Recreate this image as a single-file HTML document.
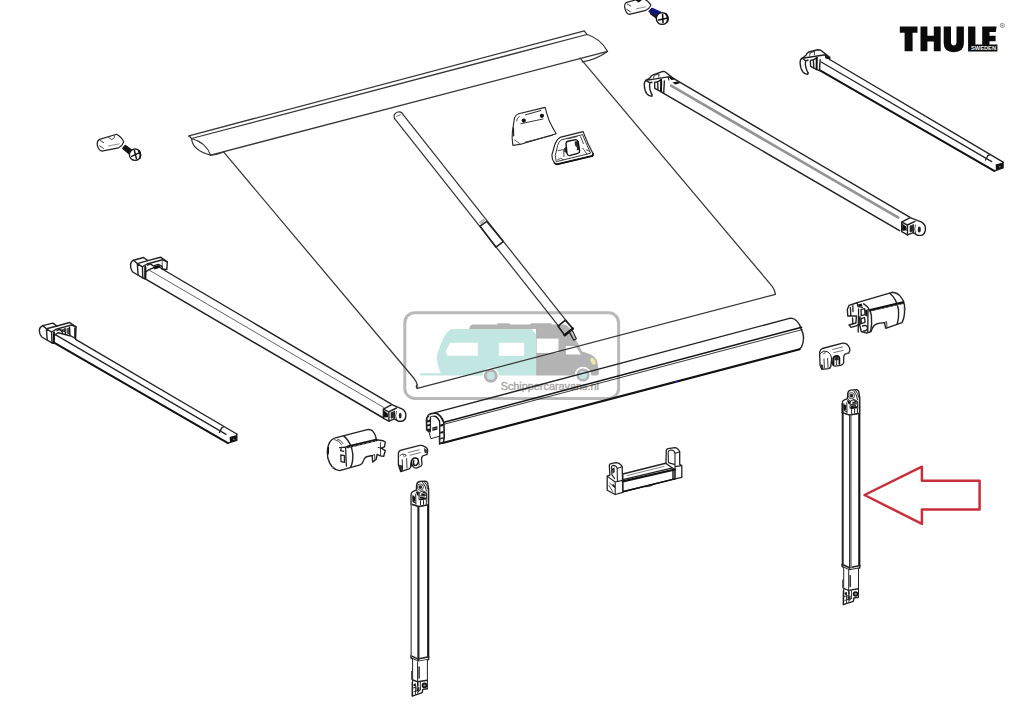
<!DOCTYPE html>
<html><head><meta charset="utf-8"><title>Thule awning parts</title>
<style>
html,body{margin:0;padding:0;background:#fff;}
body{width:1024px;height:711px;overflow:hidden;font-family:"Liberation Sans",sans-serif;}
svg{display:block;position:absolute;left:0;top:0;}
.k{fill:none;stroke:#222;stroke-width:1.4;stroke-linecap:round;stroke-linejoin:round;}
.kb{fill:none;stroke:#111;stroke-width:2.1;stroke-linecap:round;stroke-linejoin:round;}
.kt{fill:none;stroke:#363636;stroke-width:1.25;stroke-linecap:round;stroke-linejoin:round;}
.kg{fill:none;stroke:#8a8a8a;stroke-width:1.3;stroke-linecap:round;}
.w{fill:#fff;stroke:#222;stroke-width:1.4;stroke-linecap:round;stroke-linejoin:round;}
.wb{fill:#fff;stroke:#111;stroke-width:1.6;stroke-linecap:round;stroke-linejoin:round;}
.d{fill:#111;stroke:none;}
</style></head>
<body>
<svg width="1024" height="711" viewBox="0 0 1024 711">
<rect width="1024" height="711" fill="#fff"/>

<!-- ============ WATERMARK ============ -->
<g id="wm">
 <rect x="404.8" y="312.7" width="213.8" height="85.7" rx="10" ry="10" fill="none" stroke="#b9b9b9" stroke-width="3"/>
 <!-- motorhome (gray) -->
 <path d="M469.5 328 Q470 324.6 474 324.6 L497 324.6 L498 323.2 L509.4 323.2 L510.4 324.6 L530 324.6 L531 323.2 L551 323.2 L552 324.6 L563.5 324.6 Q567.6 325 569.4 327.8 L582.2 351.4 Q594 354.6 596.4 359.4 Q597.8 362 598 366 L598.9 373.2 Q598.9 375.6 596.5 375.6 L536 375.6 L536 329 L469.5 329 Z" fill="#b3b3b3"/>
 <rect x="536.6" y="338.6" width="21.9" height="14.3" fill="#fff"/>
 <path d="M565.9 346 L575.6 346 L580.9 354.4 L565.9 354.4 Z" fill="#fff"/>
 <ellipse cx="593" cy="361.3" rx="2.1" ry="3.7" transform="rotate(-28 593 361.3)" fill="#f2e9a2"/>
 <!-- caravan (teal) -->
 <path d="M453 329 L531.6 329 L536.2 334.4 L536.2 375.4 L440.6 375.4 L440.6 375.4 L419.8 375.4 L419.8 373.3 L440.8 373.3 Q436.6 364 437 355.6 Q442 338 447.4 332 Q450 329 453 329 Z" fill="#c2e7e3"/>
 <path d="M450.2 342.8 L477.8 342.8 L477.8 355.8 L447.8 355.8 L445.4 351.8 Z" fill="#fff"/>
 <rect x="498.8" y="342.8" width="25.4" height="13" fill="#fff"/>
 <!-- wheels -->
 <circle cx="490.8" cy="375.8" r="8.2" fill="#fff"/>
 <circle cx="490.8" cy="375.8" r="5.5" fill="#c2e7e3" stroke="#b3b3b3" stroke-width="2.9"/>
 <circle cx="583" cy="375" r="8.3" fill="#fff"/>
 <circle cx="583" cy="375" r="5.3" fill="#c2e7e3" stroke="#b3b3b3" stroke-width="2.6"/>
 <text x="500.7" y="390.3" font-family="Liberation Sans, sans-serif" font-size="10.8" fill="#a6a6a6" stroke="#a6a6a6" stroke-width=".35" textLength="98.2" lengthAdjust="spacingAndGlyphs">Schippercaravans.nl</text>
</g>

<!-- ============ FABRIC + ROLL ============ -->
<g id="fabric">
 <!-- roll -->
 <path class="kt" d="M189 135.8 L584.3 30.8 L586.9 34.5"/>
 <path class="kt" d="M191.6 138.5 L586.9 34.5"/>
 <path class="kt" d="M210.6 155.1 L607.5 51.4"/>
 <path class="kt" d="M586.9 34.5 Q600 38 607.5 51.4 Q596 59.5 582.2 61.9"/>
 <path class="kt" d="M189.3 136.2 L191.6 138.5 Q192 150 210.6 155.1 Q206 142.5 191.6 138.5"/>
 <path class="kt" d="M210.6 155.1 Q218 154.6 223.8 152"/>
 <circle cx="189.4" cy="136" r="1" fill="#333"/>
 <!-- sheet -->
 <path class="kt" d="M223.8 152.2 L413.7 378 Q416.6 381.6 417.2 384.6 Q415.4 386.6 417.2 388.4 L775.5 294.4 Q774.8 289.6 772.2 286.3 L580.1 58.2"/>
 <path class="kt" d="M417.2 384.6 Q418.6 386.4 417.2 388.4" style="stroke-width:.9"/>
</g>

<!-- ============ CENTER POLE (rafter) ============ -->
<g id="pole">
 <path class="kt" d="M394.6 118.6 Q392.6 113.6 397.8 112 Q401.8 111 403.3 114.9"/>
 <path class="kt" d="M394.6 118.6 L559 326.6"/>
 <path class="kt" d="M403.3 114.9 L566.9 321.6"/>
 <path class="kt" d="M396.5 116.4 L400.6 114.7" style="stroke-width:.7"/>
 <!-- collar -->
 <path class="k" d="M480.1 226.1 L486.8 221.5 L503.3 241.6 L495.9 247.2 Z" style="stroke-width:1.5;fill:none"/>
 <path class="kt" d="M480.6 223.6 L484.6 220.6 M479.6 222.4 L483.6 219.4 M481.4 224.8 L485.4 221.8" style="stroke-width:.6"/>
 <!-- ferrule + pin -->
 <path class="k" d="M558 326.1 L565.4 320.1 L572.8 328.6 L564.7 335.2 Z" style="stroke-width:1.7;fill:none"/>
 <path class="kb" d="M564.7 335.2 L572.8 328.6" style="stroke-width:2.4"/>
 <path class="k" d="M569.3 332.1 L572.1 330 L576.3 338.8 L573.8 340.2 Z" style="stroke-width:1.2;fill:none"/>
</g>

<!-- ============ LEAD BAR (front profile) ============ -->
<g id="leadbar">
 <path class="k" d="M435.1 412.6 L790.4 318.1 Q794.6 318.2 797.4 321.6 Q800 324.6 801 328.6 Q803.4 333 803.6 337.6 Q803.4 343.6 801.4 347.2 L799.2 349.2"/>
 <path class="kb" d="M442.6 443 L799.7 349.2"/>
 <path class="kb" d="M444 422.2 L801.6 327.2" style="stroke-width:1.5"/>
 <path class="k" d="M444.2 424.2 L802.2 329.6" style="stroke-width:.9"/>
 <!-- left end profile -->
 <path d="M426.5 430 L426.2 420.4 Q426.6 414.6 431.4 413.2 L435.1 412.8 Q438 413 440.5 415.8 Q443.6 419 444.1 423.2 L444.5 437.1 L443.6 442.7 L439.4 444.2 L439.1 422.4 Q438.6 418.6 434.8 416.6 Q432.6 415.8 431 416.6 L430.8 431.6 L428.8 431.8 Z" fill="#1d1d1d" stroke="#1d1d1d" stroke-width="1.1" stroke-linejoin="round"/>
 <path d="M431.2 417 Q434.4 416.2 436.8 418.4 Q438.8 420.2 438.9 422.6 L439 436.2 L431.2 438.4 L431 431.4 Z" fill="#fff"/>
 <path d="M429 416.4 Q432 414.4 435.4 414.8 Q439.4 416 441.9 422.8" fill="none" stroke="#fff" stroke-width="1.7"/>
 <path d="M440.4 419.6 Q443 421.6 443.2 424.6 L443.4 437 L442.8 441.6 L440.4 442.6 Z" fill="#fff"/>
 <path class="d" d="M440.2 424.6 L443.4 423.8 L443.4 426 L440.2 426.8 Z M440.2 431.8 L443.4 431 L443.4 433 L440.2 433.8 Z M440.2 438 L443.4 437.2 L443.4 438.6 L440.2 439.4 Z"/>
 <path d="M427.6 418 L429.8 416.6 L429.8 419.2 L427.6 420.4 Z M427.4 422.4 L429.8 422 L429.8 424 L427.4 424.4 Z M427.5 426.4 L429.8 426 L429.8 428.4 L427.5 428.8 Z" fill="#fff"/>
 <path class="k" d="M428.9 431.7 L430.9 438.7 L439 436.3" style="stroke-width:1"/>
 <path class="d" d="M432.4 427.6 L437.4 426.2 L437.4 429.6 L432.4 431 Z"/>
 <path class="k" d="M432.4 429.3 L437.4 427.9" style="stroke-width:.6;stroke:#aaa"/>
 <rect x="674.8" y="380.8" width="3" height="1.3" fill="#2222cc" transform="rotate(-14.7 676.3 381.5)"/>
</g>

<!-- ============ ARM: middle-right ============ -->
<g id="armMR">
 <path class="w" d="M672.1 77.7 L910.1 217.4 L901.7 222.2 L901.7 231.7 L899.6 230.6 L662.8 92.9 L664.2 81.4 Z" style="stroke:none"/>
 <path class="k" d="M672.1 77.7 L910.1 217.4"/>
 <path class="kg" d="M670.2 85.2 L899.2 218.2" style="stroke-width:2.7;stroke:#949494;stroke-linecap:butt"/>
 <path class="kb" d="M662.8 92.9 L899.6 230.6" style="stroke-width:1.5;stroke:#222"/>
 <!-- head -->
 <path class="w" d="M646 80.3 L650.2 77.7 L662.8 71.4 L672.1 77.7 L668.8 77.2 L664.4 81.2 L663.6 92.8 L658 90.4 L657.6 82.6 L651 83.6 Z" style="stroke:none"/>
 <path class="w" d="M646 80.4 L650 77.9 Q651 75.6 653.1 74.8 L662.8 71.4 Q664.8 71.4 666.1 72.5 L672.6 77.9 L668.3 76.9 Z"/>
 <path class="k" d="M653.6 78 L654.2 75.4 L659 73.8 L658.8 77.2" style="stroke-width:.9"/>
 <path class="k" d="M668.3 76.9 L668.9 80.1" style="stroke-width:1.1"/>
 <path class="k" d="M646 80.3 Q644 81.6 644.3 85.3 Q644.6 91 646.8 93.8 Q649 96.4 651.9 96.3 L651.9 94.6"/>
 <path class="k" d="M649.8 82.8 Q648.8 88.6 651.9 94.6 M646 80.3 L649.8 82.8 L652 82.2"/>
 <path class="k" d="M654.6 82.4 L657.6 81.8 L658 90.2 L654.8 88.4 Z M657.6 81.8 L661.2 79.6 M658 90.2 L663.4 92.8"/>
 <path class="kb" d="M661.2 80 L661 91.4" style="stroke-width:2"/>
 <path class="k" d="M664.4 81 L663.7 92.9"/>
 <path class="d" d="M668.6 77 L672 77.8 L675 79.6 L671.4 80 Z"/>
 <path class="d" d="M672.4 82.6 L677.4 81.4 L680.4 83 L675.4 84.4 Z"/>
 <!-- knuckle -->
 <path class="w" d="M901.7 222.2 L910.1 217.6 L921.7 222.2 Q926 225 925.4 229.6 Q925 234 921.7 235.4 L917.5 235.4 L913.3 232.7 L907.5 234.9 L901.7 231.7 Z"/>
 <path class="k" d="M901.7 222.2 L907.4 225 L915 221.4 M907.4 225 L907.5 234.9 M913.2 224.6 L913.3 232.7 M910.4 226 L910.4 231.6 M911.8 225.6 L911.8 231.2"/>
 <path class="d" d="M902.2 223.6 L906.4 226.8 L906.6 230.4 L902.2 230.8 Z"/>
 <ellipse cx="919.3" cy="229.4" rx="1.5" ry="3" fill="#222"/>
 <path class="k" d="M915.4 225 Q913.6 229 915.6 233.4" style="stroke-width:.8"/>
</g>

<!-- ============ ARM: far-right ============ -->
<g id="armFR">
 <path d="M829.7 59.5 L1003.1 162.2 L1003.1 167.9 L994.2 171 L818.7 70.4 L820 62 Z" fill="#fff"/>
 <path class="k" d="M829.7 59.5 L1003.1 162.2"/>
 <path class="k" d="M821.2 62 L991.7 161.6" style="stroke-width:1.25"/>
 <path class="kb" d="M818.7 69.6 L994.2 170.9" style="stroke-width:2"/>
 <!-- end -->
 <path class="k" d="M1003.1 162.2 L1003.1 167.9 L994.2 171"/>
 <path class="d" d="M995.6 164.6 L1003 162.6 L1003 167.8 L996 170.2 Z"/>
 <path class="k" d="M985.6 160 L988 155.4 L989.8 154.8" style="stroke-width:1.3"/>
 <rect x="999" y="166.2" width="1.6" height="1" fill="#999"/>
 <!-- head -->
 <path class="w" d="M802.2 58.2 L806 55.3 L817.8 49.8 L829.7 57.4 L829.7 59.5 L820.4 61.6 L818.9 70.4 L813.6 68 L813.4 60.6 L806.6 61.4 Z" style="stroke:none"/>
 <path class="w" d="M802.2 58.2 L806 55.3 Q806.8 52.9 808.8 52 L817.8 49.8 Q820 49.8 821.4 50.8 L829.7 57.4 L825.4 54.8 Z"/>
 <path class="k" d="M829.7 57.4 L829.7 59.5"/>
 <path class="k" d="M809.6 55.4 L810.2 52.8 L814.6 51.4 L814.4 54.6" style="stroke-width:.9"/>
 <path class="k" d="M825.4 54.8 L826 58" style="stroke-width:1.1"/>
 <path class="k" d="M802.2 58.2 Q800 59.4 800.1 62.8 Q800.4 68.6 802.7 71.7 Q804.8 74.4 807.7 74.2 L808.1 73"/>
 <path class="k" d="M805.6 60.7 Q804.6 66.6 808.1 73 M802.2 58.2 L805.6 60.7 L808 60.2"/>
 <path class="k" d="M810.4 60.4 L813.4 59.8 L813.8 68.2 L810.6 66.4 Z M813.4 59.8 L817 57.6 M813.8 68.2 L818.8 70.4"/>
 <path class="kb" d="M816.8 58 L816.6 69.2" style="stroke-width:2"/>
 <path class="k" d="M820.2 59.6 L819.4 70.6"/>
 <path class="d" d="M824.6 55.2 L829.4 57.6 L829.4 59.4 L826 58.6 Z"/>
</g>

<!-- ============ ARM: middle-left ============ -->
<g id="armML">
 <path d="M162.2 269 L391 403.8 L382.5 417.5 L145.3 278.8 L148 270 Z" fill="#fff"/>
 <path class="k" d="M162.2 269 L391 403.8"/>
 <path class="k" d="M149.5 270.3 L384 407.6" style="stroke-width:1;stroke:#666"/>
 <path class="kb" d="M145.3 278.8 L382.5 417.5" style="stroke-width:1.5;stroke:#222"/>
 <!-- cap -->
 <path class="w" d="M130.5 265.3 Q130.6 261.6 133.5 260.2 L143.6 257.5 L147.8 260.6 L160.5 257.2 L167.3 261.9 L166.8 269.5 L162.2 269 L158 266 L149 269.6 L145.6 272 L145.3 278.8 L143.6 278.3 L132.7 272 Q130.4 269 130.5 265.3 Z"/>
 <path class="k" d="M137.3 263.6 L138.1 274.6 M133.5 260.2 L137.3 263.6 L147.8 260.6 M142.4 266.9 L142.8 277.9 M137.3 263.6 L142.4 266.9 L147 264 L162.6 259.8 L167.3 261.9"/>
 <path class="kb" d="M145.3 267 L145.3 278.4" style="stroke-width:2.1"/>
 <path class="k" d="M147.6 265.2 L150 263.8 L153.4 265.8 L158.4 264.4 L162.2 266.6 L162.2 269"/>
 <path class="d" d="M153.4 266.6 L158.4 265.2 L160.4 266.6 L159.2 268 L154.4 269.4 Z"/>
 <path class="k" d="M162.2 261.6 L162.2 266.4" style="stroke-width:.8"/>
 <g transform="translate(.8 .8)">
 <!-- knuckle -->
 <path class="w" d="M382.5 417.5 L382.6 408.4 L391 403.8 L401.6 408.4 Q405.6 411 405 415.6 Q404.6 419.4 401.4 420.4 L397.4 420.4 L393.6 418 L388.2 420.4 Z"/>
 <path class="k" d="M382.6 408.4 L388 411 L395.6 407.2 M388 411 L388.2 420.4 M393.4 410.4 L393.6 418 M390.6 411.8 L390.6 417.2 M392 411.4 L392 416.8"/>
 <path class="d" d="M383 409.8 L387 412.8 L387.2 416.4 L383 416.8 Z"/>
 <ellipse cx="399.4" cy="414.8" rx="1.4" ry="2.9" fill="#222"/>
 <path class="k" d="M395.6 410.6 Q393.8 414.6 395.8 419" style="stroke-width:.8"/>
 </g>
</g>

<!-- ============ ARM: far-left ============ -->
<g id="armFL">
 <path d="M75.6 339.4 L236.8 434 L236.8 440.4 L228 443.2 L53.6 342.9 L56 334 Z" fill="#fff"/>
 <path class="k" d="M75.6 339.4 L236.8 434"/>
 <path class="k" d="M55.3 334.6 L226.1 434.4" style="stroke-width:1.25"/>
 <path class="kb" d="M53.6 342.4 L228 443.1" style="stroke-width:2"/>
 <path class="k" d="M236.8 434 L236.8 440.4 L228 443.2"/>
 <path class="d" d="M229.6 437 L236.7 435 L236.7 440.2 L230 442.4 Z"/>
 <path class="k" d="M219.4 432.6 L221.8 427.6 L223.6 427" style="stroke-width:1.3"/>
 <rect x="233" y="438.8" width="1.6" height="1" fill="#999"/>
 <!-- cap -->
 <path class="w" d="M39.3 330.3 Q39.6 327 42.7 325.6 L52.8 323.1 L57 326 L69.7 322.5 L76 326.9 L75.6 338.7 L71 336 L58 332.8 L54 335.6 L53.6 342.9 L52.8 343.3 L41.8 337 Q39.2 334 39.3 330.3 Z"/>
 <path class="k" d="M46.4 328.8 L47.2 339.8 M42.7 325.6 L46.4 328.8 L57 326 M51.6 332 L52 343 M46.4 328.8 L51.6 332 L56.4 329.2 L71.6 325 L76 326.9"/>
 <path class="kb" d="M54 332.4 L53.8 342.8" style="stroke-width:2"/>
 <path class="k" d="M57 330.6 L59.6 329.2 L62 331.4 M65 328.4 L65.4 333.8 M69.6 327.2 L70 335.4 M62 331.4 L62.4 333.2" />
 <path class="d" d="M59.6 329.8 L65 328.4 L65.2 332 L62.2 332 Z M66.4 328.6 L69.6 327.6 L69.8 334.6 L66.8 333.4 Z" style="opacity:.75"/>
 <path class="kb" d="M75 328 L75 337" style="stroke-width:1.6"/>
</g>

<!-- ============ LEG (defined at right-leg position) ============ -->
<defs>
<g id="leg">
 <!-- tube -->
 <path d="M842 412.6 L849.7 415.1 L859.8 413.4 L859.8 565.4 L849.4 567.8 L842 564.2 Z" fill="#fff"/>
 <path class="kb" d="M859.3 397 L859.3 565.4" style="stroke-width:2.1"/>
 <path class="k" d="M842 412.6 L849.7 415.1 L859.6 413.4"/>
 <!-- head -->
 <path class="w" d="M842.2 412.4 L842.2 403.2 Q842.2 400.8 844.4 399.9 L847.4 398.7 L847.7 393.6 Q848 390.6 850.8 390.1 L856.2 389.7 Q858.6 390 859 392.6 L859.5 397.1 L859.5 413.2 L849.7 415 Z" style="stroke-width:1.3"/>
 <circle cx="851.4" cy="395.7" r="3.1" fill="none" stroke="#333" stroke-width=".9"/>
 <circle cx="851.4" cy="395.7" r="1.9" fill="#2a2a2a"/>
 <path class="k" d="M853.8 391 Q856.6 394 857.6 399.6 M855.6 390.6 Q858.4 393.6 858.8 397.2" style="stroke-width:1"/>
 <path class="k" d="M847.4 398.7 L850.4 401.2 L850 407.6 M844 404 L844.2 410.6 L846.8 411.6 M846.8 402.6 L847 412.8 M850.4 401.2 L854 399.4 L857.6 401.4 L857.8 408 M851 404.6 L857.4 403.8 M850.4 408 L857.6 406.4 M851.6 409.6 L851.6 413.4 M854.6 409.2 L854.6 413 M857.4 408.6 L857.4 412.6" style="stroke-width:1"/>
 <path class="d" d="M844.8 405.4 L846.2 405 L846.2 410 L844.8 409.6 Z M848 400.8 L850 401.8 L849.6 404.6 L848 403.6 Z M852.4 401.8 L856.6 402.4 L856.6 403.4 L852.4 403.8 Z M851 405.6 L856 405 L856 406.2 L851 407.2 Z"/>
 <path class="d" d="M843.6 405 L845.4 404.4 L845.6 410.6 L843.8 410 Z M847.2 400 L849.6 401 L849.6 402.6 L847.2 401.8 Z M853.6 399.8 L857 401.4 L857 402.4 L853.6 401.2 Z M850.6 407.6 L857 406.6 L857 408.2 L850.6 409.2 Z"/>
 <!-- tube bottom band -->
 <path class="k" d="M842 564.2 L849.4 567.7 L859.8 565.4 M842.2 566.6 L849.4 570.1 L859.7 568 M849.4 567.7 L849.4 570.1 M842 564.2 L842.2 566.6 M859.8 565.4 L859.7 568" style="stroke-width:1.5"/>
 <!-- inner tube -->
 <path d="M843.6 567.6 L849.4 570.2 L858.4 568.4 L858.4 590 L843.6 590 Z" fill="#fff"/>
 <path class="k" d="M843.7 567.6 L843.7 604.6 M858.5 568.4 L858.5 597.4 M848.7 570.4 L848.7 589.6" style="stroke-width:1"/>
 <path class="kb" d="M850.2 575.6 L850.2 586.6" style="stroke-width:1.3"/>
 <path class="k" d="M842.6 580 L842.6 588" style="stroke-width:.8"/>
 <path class="k" d="M844 588.6 L848.8 590.4 L858.4 588.8 M848.8 590.4 L848.8 594"/>
 <!-- foot -->
 <path class="k" d="M843.3 604.7 L853.3 601.3 L853.9 598 L858.4 597.4 M843.4 590.6 L843.3 604.7"/>
 <circle cx="855.6" cy="594" r="2" fill="#888" stroke="#111" stroke-width="1.6"/>
 <path class="k" d="M851.4 590.6 L851.6 598.4 L849 600.6 M846.4 592.4 L846.6 602.6 M844 596.6 L848.6 595.4 M845 600.4 L851.6 598.4 M849 592 L849 602" style="stroke-width:.9"/>
 <circle cx="845.8" cy="593.6" r="1.3" fill="#222"/>
 <path class="d" d="M847.4 596.6 L850.6 595.6 L850.6 598.2 L847.6 600 Z" style="opacity:.8"/>
</g>
</defs>
<use href="#leg"/>
<g id="legRlines">
 <path class="k" d="M842.7 404 L842.7 564.6" style="stroke-width:2;stroke:#262626"/>
 <path class="kg" d="M851.1 415.4 L851.1 567.4" style="stroke:#8c8c8c;stroke-width:1.5"/>
 <path class="k" d="M849.7 415.4 L849.7 567.4" style="stroke-width:1.4;stroke:#333"/>
</g>
<use href="#leg" transform="translate(-431.1 91.4)"/>
<g id="legLlines">
 <path class="k" d="M411.2 495.4 L411.2 656" style="stroke-width:1.5;stroke:#6a6a6a"/>
 <path class="k" d="M418.4 506.8 L418.4 658.8" style="stroke-width:2.1;stroke:#222"/>
</g>

<!-- ============ LEFT MOTOR / END CAP ============ -->
<g id="motorL">
 <path class="w" d="M336.3 437.6 L368.2 429.4 L371.8 430.2 Q375.6 433.6 376.3 439.8 L383.3 440.8 L385.3 442 L384.5 446.9 L381.2 448.2 L385.3 450.6 L383.7 456.3 L380.4 455.9 L377.1 454.3 L376.3 459.2 L372.7 462 L372.2 455.5 L366.5 456.7 Q363.6 458.6 363 461.6 Q362.4 464 360 464.9 L339.6 470.6 Q331 469.6 327.8 458 Q326.4 448.4 329.6 442.4 Q332 438.4 336.3 437.6 Z"/>
 <path class="k" d="M343.7 435.9 Q351.6 442.6 352.8 454 Q353.2 462 350.6 467.4"/>
 <path class="kb" d="M347.8 446.9 L376.3 440" style="stroke-width:2.7"/>
 <path class="k" d="M349 447.4 L375.6 441" style="stroke-width:.5;stroke-dasharray:2 2.5;stroke:#fff"/>
 <path class="k" d="M339.6 447.6 L347.8 446.9 M341.4 447.6 L340.6 450.6 L343.6 451.4 M345.6 448 L346.4 466 M340.8 455 L344.4 455.6 L344.4 462.4 L341 461.6 Z" style="stroke-width:1.3"/>
 <path class="k" d="M334.6 439.6 Q339.6 440.4 341.6 444.6 M337.4 439 Q341.2 440 343 443.6" style="stroke-width:.8"/>
 <path class="kb" d="M328.3 447.6 L328.1 453.6" style="stroke-width:1.6"/>
 <path class="k" d="M380.4 442.6 L380.6 455.6 M381.2 448.2 L378 447.4" style="stroke-width:.9"/>
 <path class="k" d="M372.4 455.6 L374.6 454.4 L375 459.8" style="stroke-width:.9"/>
 <rect x="332" y="466.6" width="1.2" height="2" fill="#8888dd"/>
</g>

<!-- ============ RIGHT MOTOR / END CAP ============ -->
<g id="motorR">
 <path class="w" d="M857.1 302.6 L892.2 292.3 Q897.6 292.8 900.4 296.4 Q904 300.6 904.5 305.4 L904.5 313.6 Q904 319 902 322.6 L885.7 328.3 L884.5 322.6 L878.4 323.4 Q874 324.6 872.7 327.4 L871 331.5 L866.9 333.2 L861.2 331.5 L859.6 324.2 L856.3 325.8 L851 327.4 L849 325 L855.9 323 L856.4 316 L847.8 316 L847.3 309.5 L849 305.4 L856.3 303 Z"/>
 <path class="k" d="M889.8 293.2 Q896.4 298.6 898.4 309 Q899.2 317.6 897.1 324.2"/>
 <path class="kb" d="M870.2 310.3 L902.9 302.6" style="stroke-width:2.7"/>
 <path class="k" d="M871 311.4 L902 304" style="stroke-width:.5;stroke-dasharray:2 2.5;stroke:#fff"/>
 <path class="k" d="M863.7 303.8 Q870 307.6 871.4 315.6 Q872.2 324 870.6 331.4"/>
 <path class="k" d="M850.4 307.6 L850.8 315.6 M852.8 305.6 L853 311.6 M857.1 302.6 L858 306.6 L862.4 307.4 M858.6 309 L858.2 332 M861 309.6 L864.6 308.6 L865 314.6 L861.2 315.6 Z M861 318.6 L864.6 317.6 L865 322.4 L861.4 323.6 Z M862.6 326 Q866.6 324.4 867.6 328 Q867 331.4 863.6 331 M868 309.6 L867.8 331.6 M852.6 318 L852.8 323.6" style="stroke-width:1.35"/>
 <path class="d" d="M858 304.4 L861.6 303.4 L862.4 306.2 L858.4 306.4 Z M859 316.6 L860.6 316.2 L860.8 324.6 L859.2 325 Z M865.2 310 L867.4 309.4 L867.4 316.4 L865.4 316 Z"/>
 <path class="k" d="M884.5 322.6 L886.6 321.6 L887 327.6" style="stroke-width:.9"/>
 <rect x="904.6" y="307.6" width="1.1" height="3" fill="#6666cc"/>
</g>

<!-- ============ SMALL HINGE BRACKET (left) ============ -->
<g id="brkL">
 <path class="w" d="M398.4 453.4 Q398.4 450.8 401.2 450.1 L419.8 445.3 Q423 445.2 424.3 446.4 Q427.6 448 427.7 450.4 L427.1 454.3 L422.6 456 Q421.4 457.6 421.5 459.4 L422.1 464.4 Q421.6 466.2 419.8 466.7 L416.4 468.1 Q413.6 468 413.1 466.7 L411.4 463.3 L410.8 466.1 Q410.6 468.2 409.1 468.9 L400.7 471.7 L398.4 465 Z" style="stroke-width:1.3"/>
 <path class="kb" d="M411.2 466 Q410.4 459.6 414.2 458 Q418.6 457.4 418.4 461.6 Q417.6 465.6 414.4 465.6 Q412.6 463.6 413.8 460.8" style="stroke-width:1.5"/>
 <path class="k" d="M408.6 452.4 L419.2 449.8 M410.2 455.2 L420.4 452.6" style="stroke-width:.9;stroke:#666"/>
 <path class="k" d="M402.2 459.6 L402.6 468.8 M406.6 458.6 L407 468 M400 455.6 Q403 452.4 406.2 455.4 M418.8 461.6 L419.2 465.2" style="stroke-width:.9"/>
 <circle cx="404.6" cy="455.6" r="1.1" fill="none" stroke="#444" stroke-width=".7"/>
 <path class="d" d="M398.8 464.6 L402.4 465.6 L403 470.8 L400.7 471.5 Z M424 448 L427 450.2 L426.6 453.6 L424.4 452.4 Z" style="opacity:.85"/>
</g>

<!-- ============ SMALL HINGE BRACKET (right) ============ -->
<g id="brkR">
 <path class="w" d="M819.6 353 Q819.8 349.6 822.4 348.5 L842.6 343.2 Q846.6 343 848.2 345.7 Q850 348 849.9 350.2 L848.8 353 L844.9 354.1 Q843.6 355.6 843.7 357.5 L843.7 362.6 Q843.2 364.6 840.4 365.4 L834.7 366.2 Q832.8 366 832.5 364.2 L831.7 358.1 L830.8 366.5 Q830.4 368.2 828.6 368.7 L821.8 369.3 L820.1 365.4 Z" style="stroke-width:1.3"/>
 <path class="k" d="M820.4 353.6 Q823.6 349.6 828 352 Q831 354 831.7 358.1" style="stroke-width:1"/>
 <path class="kb" d="M833.6 364.4 L833.4 358 Q834 355.8 836.8 355.8 Q839.4 356 839.4 358.6 L839.4 364" style="stroke-width:1.7"/>
 <path class="k" d="M832.6 349.4 L842.6 347 M833.8 352.6 L843.2 350.4" style="stroke-width:.9;stroke:#666"/>
 <path class="k" d="M824 359 L824.4 368 M827.6 358.4 L828 367.6 M823.6 354 L826 351.6 M836.6 359 L836.6 364.6" style="stroke-width:.9"/>
 <path class="d" d="M820.4 364 L823 365 L823.4 369 L821.8 369.2 Z M834.4 357.2 L838.6 356.8 L838.6 360 L834.6 360.6 Z" style="opacity:.85"/>
 <path class="k" d="M844.9 354.1 L848.8 353" style="stroke-width:1;stroke:#55a"/>
</g>

<!-- ============ MIDDLE BRACKET (wall bracket) ============ -->
<g id="brkM">
 <!-- right tower -->
 <path class="w" d="M666.3 450.4 Q666.6 449 668 448.6 L674.9 447.6 Q677.6 447.6 679.7 451.5 L679.7 464.4 L681.8 465.5 L681.8 477.3 L674.9 478.9 L665.8 470.6 Z" style="stroke-width:1.3"/>
 <path class="k" d="M668.2 452 Q668.4 450.4 670 450.2 L671.6 450 Q674.6 450.6 675 453.6 L675 464.6 L668.4 462.6 Z M675 453.6 L679.6 451.8 M675 464.6 L674.9 478.9 M675 466.6 L681.6 465.6" style="stroke-width:1.1"/>
 <!-- beam -->
 <path class="w" d="M622.8 474 L665.7 463.3 L674.9 469.7 L674.9 478.9 L622.8 491.8 Z"/>
 <path class="kb" d="M622.8 481.4 L674.9 469.5" style="stroke-width:2.3"/>
 <path class="k" d="M622.8 479.6 L671.6 468.1" style="stroke-width:1.2"/>
 <path class="k" d="M627 475.6 L664 466.4" style="stroke-width:.8;stroke:#666"/>
 <path class="kb" d="M622.8 491.8 L674.9 478.9" style="stroke-width:1.4"/>
 <path class="kb" d="M673 470.4 L673 478.8" style="stroke-width:1.4"/>
 <path class="k" d="M646 486.6 L652 485.2" style="stroke-width:1.4"/>
 <!-- left tower -->
 <path class="w" d="M609.3 465.4 Q609.4 464 611 463.6 L615.8 462.6 Q619.6 462.6 622.2 466.5 L622.8 492.3 L615.2 494.5 L607.2 490.2 L607.2 476.2 L609.9 475.1 Z" style="stroke-width:1.3"/>
 <path class="k" d="M611.4 467 Q611.6 465.6 613 465.4 Q616.6 465.6 617.2 468.6 L617.4 480.4 M617.2 468.6 L622 466.8 M615.2 482 L615.2 494.5 M607.4 476.4 L615.2 482 L622.6 480.4 M611.6 467 L611.8 474.6 L614.6 478.6" style="stroke-width:1.1"/>
 <path class="d" d="M612.6 483.4 L615 485.4 L615 488 L612.4 486 Z M612 468.4 L614.6 467.6 L614.8 472 L612.6 474 Z" style="opacity:.85"/>
 <path class="k" d="M609 485.6 L612.6 491.4 M609.6 483 L614.4 487.4" style="stroke-width:.8"/>
</g>

<!-- ============ PLATES ============ -->
<g id="plates">
 <path class="w" d="M512.9 145.4 Q511.6 138 512.4 131.6 L514.5 117.9 Q515.6 114.6 518.7 113.7 L545.1 107.4 Q547 114.6 549.3 121.1 Q552.6 128 556.2 133.8 L520.8 144.3 Z" style="stroke-width:1.1"/>
 <path class="k" d="M525 142.2 L552.5 135.3" style="stroke-width:.9"/>
 <path class="k" d="M514.6 140 L520.8 144.3 M516.6 121 Q517 117.6 519.4 116.4" style="stroke-width:.8"/>
 <path class="k" d="M520.8 123.7 L543 119" style="stroke-width:.9"/>
 <path class="k" d="M525.6 114.8 L540.9 110.5" style="stroke-width:1;stroke-dasharray:1.6 .8"/>
 <circle cx="523.8" cy="120.6" r="2.1" fill="#111"/>
 <circle cx="541.9" cy="115.8" r="2.1" fill="#111"/>
 <path class="k" d="M513.4 128 L513.6 136" style="stroke-width:1.4;stroke-dasharray:1.2 1"/>

 <path class="w" d="M554.6 163.3 Q551.6 159 551.9 154.9 L554.6 145.4 Q556.4 139.6 559.9 137.4 L583.1 131.6 Q585.6 138 588.3 144.3 L593.1 153.8 L592.6 155.9 L556.7 164.3 Z" style="stroke-width:1.2"/>
 <path class="k" d="M556.6 161.6 L590.6 153.2 L585.4 141.6 L582.6 134.6 L561.4 139.8 Q558.6 141.6 557.6 145.6 L555.4 155 Z" style="stroke-width:.9"/>
 <path class="kb" d="M554.6 163.3 L556.7 164.3 L592.6 155.9 L593.1 153.8" style="stroke-width:1.7"/>
 <path class="kb" d="M566 143.6 Q566 141.6 568 141.2 L575.6 139.6 Q577.6 139.6 578.2 141.6 L579.6 151 Q579.6 153 577.8 153.4 L569.6 155.6 Q567.6 155.6 567 153.6 Z" style="stroke-width:1.4"/>
 <path class="d" d="M574.6 141.4 L578.2 141 L579.6 149.6 L576.6 150.6 Q578 147 575 145.4 Z M564 148.6 L566.4 146.4 L566.8 153 L564.4 152 Z" style="opacity:.9"/>
 <path class="k" d="M558 150.6 L563.6 149.6 L564 156.6 M557.6 159.6 Q560.6 157 563.4 159.4 M583 148.4 L586.8 154 M586.4 150 Q588.4 149.6 589.6 151.6 M567.6 138.8 L577 136.6 M580.6 136.6 L583.4 143.6" style="stroke-width:.8"/>
</g>

<!-- ============ CAPS + SCREWS ============ -->
<g id="capL">
 <path class="w" d="M97.1 144.1 Q97.4 140.4 99.6 139.4 L116.5 134.3 Q121.6 137 123.8 141.9 Q122.4 146 118.6 147.8 L101.8 151.1 Q98 150 97.1 144.1 Z" style="stroke-width:1.2"/>
 <path class="k" d="M100.4 140.6 L103.6 142.6 M99.6 145.8 L103.4 148.4" style="stroke-width:.9"/>
 <path class="k" d="M108.4 146 L119.4 143.8" style="stroke-width:.8;stroke-dasharray:1.4 .6;stroke:#777"/>
 <path class="k" d="M108.6 137.4 L111.6 139.6 L114.6 137.6 L114.2 135.6" style="stroke-width:.8"/>
</g>
<g id="screwL">
 <path d="M122.9 148.4 L125.4 145.6 L133 151.2 L130.6 155 Z" fill="#151515" stroke="#151515" stroke-width="1.6" stroke-linejoin="round"/>
 <circle cx="135.1" cy="154.7" r="5.7" fill="#fff" stroke="#1c1c1c" stroke-width="1.3"/>
 <path class="kb" d="M131.6 156.4 L139 152.8 M134.4 150.6 L136.4 158.6" style="stroke-width:1.5"/>
 <path class="kb" d="M138.6 150.6 Q141.2 153.6 139.8 158.2" style="stroke-width:1.7"/>
</g>
<g id="capT">
 <path class="w" d="M624.6 6.8 Q624.6 3.6 625.9 2.7 L642 -2 Q648.6 .6 650.9 5.1 Q649.6 8.6 645.8 10.3 L629.4 14.4 Q625.6 13.6 624.6 6.8 Z" style="stroke-width:1.2"/>
 <path class="k" d="M627.2 4 L630.6 6 M626.6 9.4 L630.4 11.8" style="stroke-width:.9"/>
 <path class="k" d="M636.4 8.8 L645.6 6.8" style="stroke-width:.8;stroke-dasharray:1.4 .6;stroke:#777"/>
 <path class="d" d="M634.6 -.4 L638.6 2.6 L641.6 .4 L640.6 -2 Z"/>
</g>
<g id="screwT">
 <path d="M649.4 11.4 L652 8.6 L660.4 12.4 L657.4 16.4 Z" fill="#14147a" stroke="#14147a" stroke-width="1.8" stroke-linejoin="round"/>
 <path d="M649.6 12.6 L657 16.6 L656 18.6 L650.4 14.6 Z" fill="#111"/>
 <circle cx="662.2" cy="18.5" r="5.9" fill="#fff" stroke="#151515" stroke-width="1.4"/>
 <path class="kb" d="M658.6 20 L666.6 18.2 M662.6 14.4 L663 22.6" style="stroke-width:1.6"/>
 <path class="kb" d="M665.6 13.6 Q668.6 17 667.4 21.6" style="stroke-width:1.8"/>
</g>

<!-- ============ RED ARROW ============ -->
<path d="M864.5 495 L921.9 466.7 L921.9 480.7 L979.6 480.7 L979.6 509.6 L921.9 509.6 L921.9 523.9 Z" fill="none" stroke="#c62f3b" stroke-width="2.5" stroke-linejoin="round"/>

<!-- ============ THULE LOGO ============ -->
<g id="thule" fill="#0a0a0a">
 <path d="M899.8 26.6 H917.5 V32.7 H912.6 V51.3 H904.6 V32.7 H899.8 Z"/>
 <path d="M920.5 26.6 H927.4 V35.8 H933.8 V26.6 H940.7 V51.3 H933.8 V41.6 H927.4 V51.3 H920.5 Z"/>
 <path d="M943.7 26.6 H951 V42 Q951 45.4 953.8 45.4 Q956.5 45.4 956.5 42 V26.6 H963.9 V43 Q963.9 52.2 953.8 52.2 Q943.7 52.2 943.7 43 Z"/>
 <path d="M968.1 26.6 H975.4 V44.4 H982.2 V26.6 H996.6 L995.8 32.1 H989.5 V35.8 H995.6 V41.2 H989.5 V44.4 H997.4 V51.4 H968.1 Z"/>
 <text x="971" y="50.3" font-family="Liberation Sans, sans-serif" font-weight="bold" font-size="5.6" fill="#f2f2f2" textLength="25" lengthAdjust="spacingAndGlyphs">SWEDEN</text>
 <circle cx="1002.3" cy="25.4" r="2.1" fill="none" stroke="#8a8a8a" stroke-width=".9"/>
 <circle cx="1002.3" cy="25.4" r=".9" fill="#8a8a8a"/>
</g>
</svg>
</body></html>
